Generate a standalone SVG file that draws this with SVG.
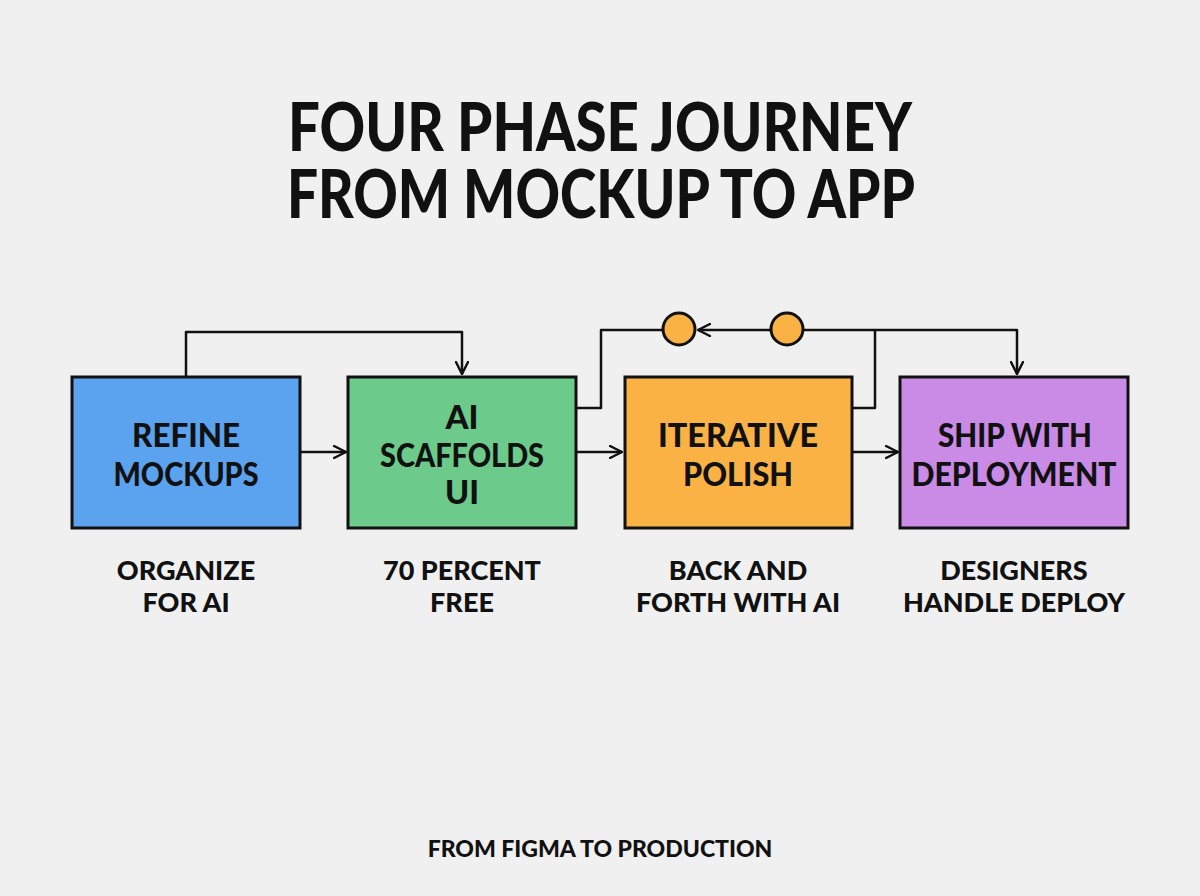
<svg xmlns="http://www.w3.org/2000/svg" width="1200" height="896" viewBox="0 0 1200 896">
<defs>
<style>
.t{font-family:Lato,"Liberation Sans",sans-serif;font-weight:900;fill:#111;text-anchor:middle}
.title{font-size:66px}
.box{stroke:#111;stroke-width:3}
.lbl{font-size:33px}
.sub{font-size:27px}
.foot{font-size:23px}
.c{fill:none;stroke:#111;stroke-width:2.5;stroke-linejoin:round}
.dot{fill:#FBB244;stroke:#111;stroke-width:3}
</style>
<marker id="ah" viewBox="0 0 14 14" refX="13" refY="7" markerWidth="14" markerHeight="14" markerUnits="userSpaceOnUse" orient="auto">
<path d="M1,1 L13,7 L1,13" fill="none" stroke="#111" stroke-width="2.4" stroke-linecap="round"/>
</marker>
</defs>
<rect width="1200" height="896" fill="#F0F0F0"/>
<g id="title">
<text class="t title" x="600" y="151" textLength="624" lengthAdjust="spacingAndGlyphs">FOUR PHASE JOURNEY</text>
<text class="t title" x="601" y="218" textLength="628" lengthAdjust="spacingAndGlyphs">FROM MOCKUP TO APP</text>
</g>
<g id="connectors">
<path class="c" d="M186,376 V332 H462 V374" marker-end="url(#ah)"/>
<path class="c" d="M300,452 H346" marker-end="url(#ah)"/>
<path class="c" d="M576,452 H622" marker-end="url(#ah)"/>
<path class="c" d="M852,452 H898" marker-end="url(#ah)"/>
<path class="c" d="M576,408 H601 V330 H662"/>
<path class="c" d="M770,330 H698" marker-end="url(#ah)"/>
<path class="c" d="M804,330 H1017 V374" marker-end="url(#ah)"/>
<path class="c" d="M852,408 H875 V330"/>
</g>
<g id="loop-dots">
<circle class="dot" cx="679" cy="329" r="16"/>
<circle class="dot" cx="787" cy="329" r="16"/>
</g>
<g id="node-refine">
<rect class="box" x="72" y="377" width="228" height="151" fill="#5BA3EE"/>
<text class="t lbl" x="186" y="447" textLength="108" lengthAdjust="spacingAndGlyphs">REFINE</text>
<text class="t lbl" x="186" y="486" textLength="145" lengthAdjust="spacingAndGlyphs">MOCKUPS</text>
</g>
<g id="node-scaffold">
<rect class="box" x="348" y="377" width="228" height="151" fill="#6CCB8A"/>
<text class="t lbl" x="462" y="429" textLength="33" lengthAdjust="spacingAndGlyphs">AI</text>
<text class="t lbl" x="462" y="467" textLength="164" lengthAdjust="spacingAndGlyphs">SCAFFOLDS</text>
<text class="t lbl" x="462" y="504" textLength="34" lengthAdjust="spacingAndGlyphs">UI</text>
</g>
<g id="node-polish">
<rect class="box" x="625" y="377" width="227" height="151" fill="#FBB244"/>
<text class="t lbl" x="738" y="447" textLength="160" lengthAdjust="spacingAndGlyphs">ITERATIVE</text>
<text class="t lbl" x="738" y="486" textLength="110" lengthAdjust="spacingAndGlyphs">POLISH</text>
</g>
<g id="node-ship">
<rect class="box" x="900" y="377" width="228" height="151" fill="#C98BE6"/>
<text class="t lbl" x="1015" y="447" textLength="154" lengthAdjust="spacingAndGlyphs">SHIP WITH</text>
<text class="t lbl" x="1014" y="486" textLength="205" lengthAdjust="spacingAndGlyphs">DEPLOYMENT</text>
</g>
<g id="sublabels">
<text class="t sub" x="186" y="580">ORGANIZE</text>
<text class="t sub" x="186" y="612">FOR AI</text>
<text class="t sub" x="462" y="580">70 PERCENT</text>
<text class="t sub" x="462" y="612">FREE</text>
<text class="t sub" x="738" y="580">BACK AND</text>
<text class="t sub" x="738" y="612">FORTH WITH AI</text>
<text class="t sub" x="1014" y="580">DESIGNERS</text>
<text class="t sub" x="1014" y="612">HANDLE DEPLOY</text>
</g>
<g id="footer">
<text class="t foot" x="600" y="857">FROM FIGMA TO PRODUCTION</text>
</g>
</svg>
